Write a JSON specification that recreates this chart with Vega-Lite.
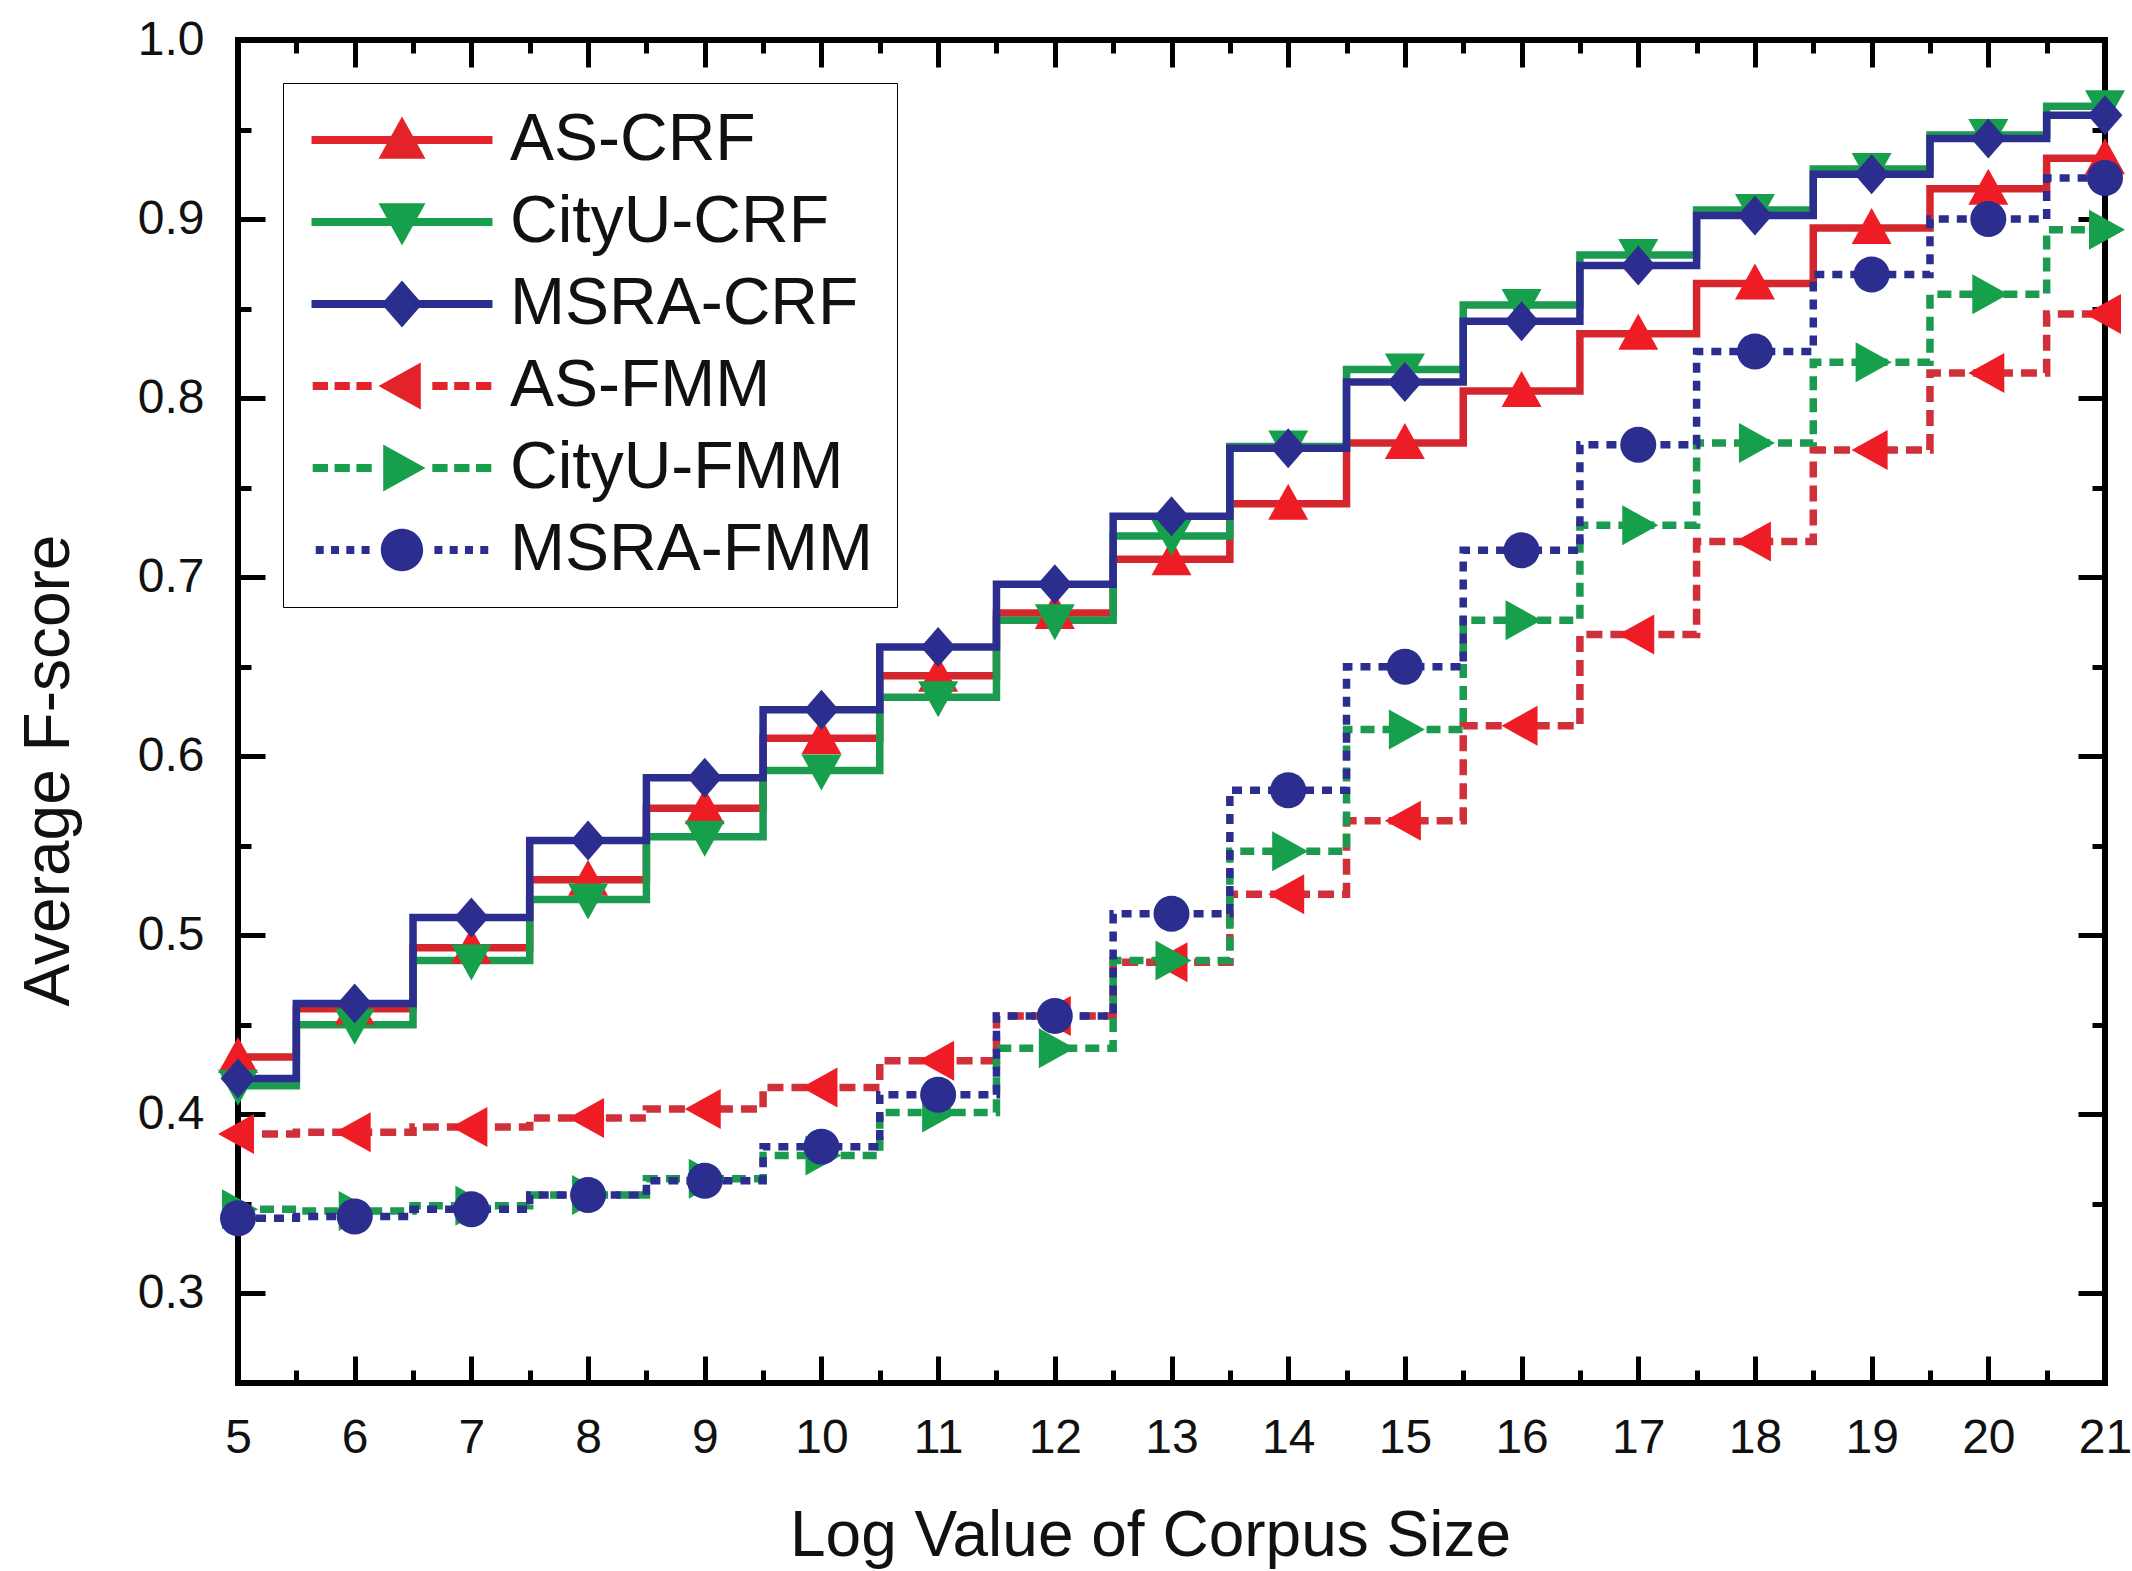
{
  "$schema": "https://vega.github.io/schema/vega-lite/v6.json",
  "width": 1867,
  "height": 1343,
  "autosize": {"type": "none"},
  "padding": {"left": 238, "top": 40, "right": 27, "bottom": 188},
  "background": "white",
  "config": {
    "font": "Liberation Sans",
    "view": {"stroke": "black", "strokeWidth": 6},
    "axis": {"grid": false}
  },
  "data": {
    "values": [
      {"logSize": 5, "series": "AS-CRF", "fscore": 0.432},
      {"logSize": 6, "series": "AS-CRF", "fscore": 0.459},
      {"logSize": 7, "series": "AS-CRF", "fscore": 0.493},
      {"logSize": 8, "series": "AS-CRF", "fscore": 0.531},
      {"logSize": 9, "series": "AS-CRF", "fscore": 0.571},
      {"logSize": 10, "series": "AS-CRF", "fscore": 0.610},
      {"logSize": 11, "series": "AS-CRF", "fscore": 0.645},
      {"logSize": 12, "series": "AS-CRF", "fscore": 0.680},
      {"logSize": 13, "series": "AS-CRF", "fscore": 0.710},
      {"logSize": 14, "series": "AS-CRF", "fscore": 0.741},
      {"logSize": 15, "series": "AS-CRF", "fscore": 0.775},
      {"logSize": 16, "series": "AS-CRF", "fscore": 0.804},
      {"logSize": 17, "series": "AS-CRF", "fscore": 0.836},
      {"logSize": 18, "series": "AS-CRF", "fscore": 0.864},
      {"logSize": 19, "series": "AS-CRF", "fscore": 0.895},
      {"logSize": 20, "series": "AS-CRF", "fscore": 0.917},
      {"logSize": 21, "series": "AS-CRF", "fscore": 0.934},
      {"logSize": 5, "series": "CityU-CRF", "fscore": 0.416},
      {"logSize": 6, "series": "CityU-CRF", "fscore": 0.450},
      {"logSize": 7, "series": "CityU-CRF", "fscore": 0.486},
      {"logSize": 8, "series": "CityU-CRF", "fscore": 0.520},
      {"logSize": 9, "series": "CityU-CRF", "fscore": 0.555},
      {"logSize": 10, "series": "CityU-CRF", "fscore": 0.592},
      {"logSize": 11, "series": "CityU-CRF", "fscore": 0.633},
      {"logSize": 12, "series": "CityU-CRF", "fscore": 0.676},
      {"logSize": 13, "series": "CityU-CRF", "fscore": 0.723},
      {"logSize": 14, "series": "CityU-CRF", "fscore": 0.773},
      {"logSize": 15, "series": "CityU-CRF", "fscore": 0.816},
      {"logSize": 16, "series": "CityU-CRF", "fscore": 0.852},
      {"logSize": 17, "series": "CityU-CRF", "fscore": 0.880},
      {"logSize": 18, "series": "CityU-CRF", "fscore": 0.905},
      {"logSize": 19, "series": "CityU-CRF", "fscore": 0.928},
      {"logSize": 20, "series": "CityU-CRF", "fscore": 0.947},
      {"logSize": 21, "series": "CityU-CRF", "fscore": 0.963},
      {"logSize": 5, "series": "MSRA-CRF", "fscore": 0.420},
      {"logSize": 6, "series": "MSRA-CRF", "fscore": 0.462},
      {"logSize": 7, "series": "MSRA-CRF", "fscore": 0.510},
      {"logSize": 8, "series": "MSRA-CRF", "fscore": 0.553},
      {"logSize": 9, "series": "MSRA-CRF", "fscore": 0.588},
      {"logSize": 10, "series": "MSRA-CRF", "fscore": 0.626},
      {"logSize": 11, "series": "MSRA-CRF", "fscore": 0.661},
      {"logSize": 12, "series": "MSRA-CRF", "fscore": 0.696},
      {"logSize": 13, "series": "MSRA-CRF", "fscore": 0.734},
      {"logSize": 14, "series": "MSRA-CRF", "fscore": 0.772},
      {"logSize": 15, "series": "MSRA-CRF", "fscore": 0.809},
      {"logSize": 16, "series": "MSRA-CRF", "fscore": 0.843},
      {"logSize": 17, "series": "MSRA-CRF", "fscore": 0.874},
      {"logSize": 18, "series": "MSRA-CRF", "fscore": 0.902},
      {"logSize": 19, "series": "MSRA-CRF", "fscore": 0.925},
      {"logSize": 20, "series": "MSRA-CRF", "fscore": 0.945},
      {"logSize": 21, "series": "MSRA-CRF", "fscore": 0.958},
      {"logSize": 5, "series": "AS-FMM", "fscore": 0.389},
      {"logSize": 6, "series": "AS-FMM", "fscore": 0.390},
      {"logSize": 7, "series": "AS-FMM", "fscore": 0.393},
      {"logSize": 8, "series": "AS-FMM", "fscore": 0.398},
      {"logSize": 9, "series": "AS-FMM", "fscore": 0.403},
      {"logSize": 10, "series": "AS-FMM", "fscore": 0.415},
      {"logSize": 11, "series": "AS-FMM", "fscore": 0.430},
      {"logSize": 12, "series": "AS-FMM", "fscore": 0.455},
      {"logSize": 13, "series": "AS-FMM", "fscore": 0.485},
      {"logSize": 14, "series": "AS-FMM", "fscore": 0.523},
      {"logSize": 15, "series": "AS-FMM", "fscore": 0.564},
      {"logSize": 16, "series": "AS-FMM", "fscore": 0.617},
      {"logSize": 17, "series": "AS-FMM", "fscore": 0.668},
      {"logSize": 18, "series": "AS-FMM", "fscore": 0.720},
      {"logSize": 19, "series": "AS-FMM", "fscore": 0.771},
      {"logSize": 20, "series": "AS-FMM", "fscore": 0.814},
      {"logSize": 21, "series": "AS-FMM", "fscore": 0.847},
      {"logSize": 5, "series": "CityU-FMM", "fscore": 0.347},
      {"logSize": 6, "series": "CityU-FMM", "fscore": 0.346},
      {"logSize": 7, "series": "CityU-FMM", "fscore": 0.349},
      {"logSize": 8, "series": "CityU-FMM", "fscore": 0.355},
      {"logSize": 9, "series": "CityU-FMM", "fscore": 0.364},
      {"logSize": 10, "series": "CityU-FMM", "fscore": 0.377},
      {"logSize": 11, "series": "CityU-FMM", "fscore": 0.401},
      {"logSize": 12, "series": "CityU-FMM", "fscore": 0.437},
      {"logSize": 13, "series": "CityU-FMM", "fscore": 0.486},
      {"logSize": 14, "series": "CityU-FMM", "fscore": 0.547},
      {"logSize": 15, "series": "CityU-FMM", "fscore": 0.615},
      {"logSize": 16, "series": "CityU-FMM", "fscore": 0.676},
      {"logSize": 17, "series": "CityU-FMM", "fscore": 0.729},
      {"logSize": 18, "series": "CityU-FMM", "fscore": 0.775},
      {"logSize": 19, "series": "CityU-FMM", "fscore": 0.820},
      {"logSize": 20, "series": "CityU-FMM", "fscore": 0.858},
      {"logSize": 21, "series": "CityU-FMM", "fscore": 0.894},
      {"logSize": 5, "series": "MSRA-FMM", "fscore": 0.342},
      {"logSize": 6, "series": "MSRA-FMM", "fscore": 0.343},
      {"logSize": 7, "series": "MSRA-FMM", "fscore": 0.347},
      {"logSize": 8, "series": "MSRA-FMM", "fscore": 0.355},
      {"logSize": 9, "series": "MSRA-FMM", "fscore": 0.363},
      {"logSize": 10, "series": "MSRA-FMM", "fscore": 0.382},
      {"logSize": 11, "series": "MSRA-FMM", "fscore": 0.411},
      {"logSize": 12, "series": "MSRA-FMM", "fscore": 0.455},
      {"logSize": 13, "series": "MSRA-FMM", "fscore": 0.512},
      {"logSize": 14, "series": "MSRA-FMM", "fscore": 0.581},
      {"logSize": 15, "series": "MSRA-FMM", "fscore": 0.650},
      {"logSize": 16, "series": "MSRA-FMM", "fscore": 0.715},
      {"logSize": 17, "series": "MSRA-FMM", "fscore": 0.774},
      {"logSize": 18, "series": "MSRA-FMM", "fscore": 0.826},
      {"logSize": 19, "series": "MSRA-FMM", "fscore": 0.869},
      {"logSize": 20, "series": "MSRA-FMM", "fscore": 0.900},
      {"logSize": 21, "series": "MSRA-FMM", "fscore": 0.923}
    ]
  },
  "layer": [
    {
      "mark": {"type": "point", "filled": true, "opacity": 0},
      "encoding": {
        "x": {
          "field": "logSize", "type": "quantitative",
          "scale": {"domain": [5, 21], "nice": false, "zero": false},
          "axis": {
            "orient": "bottom", "values": [5,6,7,8,9,10,11,12,13,14,15,16,17,18,19,20,21], "format": "d",
            "labelFontSize": 48, "labelFont": "Liberation Sans", "labelColor": "#111111",
            "labelPadding": 69, "labelBaseline": "alphabetic", "labelFlush": false, "labelOverlap": false, "labelBound": false,
            "ticks": false, "tickSize": 0, "domain": false, "grid": false,
            "title": "Log Value of Corpus Size", "titleFontSize": 64, "titleFont": "Liberation Sans", "titleFontWeight": "normal",
            "titleColor": "#111111", "titleX": 912, "titleY": 172, "titleBaseline": "alphabetic", "titleAlign": "center"
          }
        },
        "y": {
          "field": "fscore", "type": "quantitative",
          "scale": {"domain": [0.25, 1.0], "nice": false, "zero": false},
          "axis": {
            "orient": "left", "values": [0.3,0.4,0.5,0.6,0.7,0.8,0.9,1.0], "format": ".1f",
            "labelFontSize": 48, "labelFont": "Liberation Sans", "labelColor": "#111111",
            "labelPadding": 34, "labelFlush": false, "labelOverlap": false, "labelBound": false,
            "ticks": false, "tickSize": 0, "domain": false, "grid": false,
            "title": "Average F-score", "titleFontSize": 64, "titleFont": "Liberation Sans", "titleFontWeight": "normal",
            "titleColor": "#111111", "titleX": -170, "titleY": 730, "titleBaseline": "alphabetic", "titleAlign": "center", "titleAngle": -90
          }
        },
        "fill": {
          "field": "series", "type": "nominal",
          "scale": {
            "domain": ["AS-CRF", "CityU-CRF", "MSRA-CRF", "AS-FMM", "CityU-FMM", "MSRA-FMM"],
            "range": ["#E3222A", "#17A04C", "#2B2E8E", "#E3222A", "#17A04C", "#2B2E8E"]
          },
          "legend": {
            "title": null, "orient": "none", "legendX": 45, "legendY": 43,
            "fillColor": "white", "strokeColor": "black", "padding": 24, "rowPadding": 16,
            "labelFontSize": 66, "labelFont": "Liberation Sans", "labelColor": "#111111", "labelLimit": 0,
            "labelOffset": 75, "symbolOffset": 62,
            "symbolSize": 2209, "symbolOpacity": 1, "symbolStrokeWidth": 0
          }
        },
        "shape": {
          "field": "series", "type": "nominal",
          "scale": {
            "domain": ["AS-CRF", "CityU-CRF", "MSRA-CRF", "AS-FMM", "CityU-FMM", "MSRA-FMM"],
            "range": [
              "M-3.85,-0.17H3.85V0.17H-3.85Z M0,-1L1,0.8L-1,0.8Z",
              "M-3.85,-0.17H3.85V0.17H-3.85Z M0,1L-1,-0.8L1,-0.8Z",
              "M-3.85,-0.17H3.85V0.17H-3.85Z M0,-1L0.87,0L0,1L-0.87,0Z",
              "M-3.8,-0.17H-3.15V0.17H-3.8Z M-2.87,-0.17H-2.22V0.17H-2.87Z M-1.94,-0.17H-1.29V0.17H-1.94Z M1.29,-0.17H1.94V0.17H1.29Z M2.22,-0.17H2.87V0.17H2.22Z M3.15,-0.17H3.8V0.17H3.15Z M-1,0L0.8,-1L0.8,1Z",
              "M-3.8,-0.17H-3.15V0.17H-3.8Z M-2.87,-0.17H-2.22V0.17H-2.87Z M-1.94,-0.17H-1.29V0.17H-1.94Z M1.29,-0.17H1.94V0.17H1.29Z M2.22,-0.17H2.87V0.17H2.22Z M3.15,-0.17H3.8V0.17H3.15Z M1,0L-0.8,1L-0.8,-1Z",
              "M-3.67,-0.17H-3.33V0.17H-3.67Z M-3.02,-0.17H-2.68V0.17H-3.02Z M-2.37,-0.17H-2.03V0.17H-2.37Z M-1.72,-0.17H-1.38V0.17H-1.72Z M1.38,-0.17H1.72V0.17H1.38Z M2.03,-0.17H2.37V0.17H2.03Z M2.68,-0.17H3.02V0.17H2.68Z M3.33,-0.17H3.67V0.17H3.33Z M-0.9,0A0.9,0.9,0,1,1,0.9,0A0.9,0.9,0,1,1,-0.9,0Z"
            ]
          },
          "legend": {
            "title": null, "orient": "none", "legendX": 45, "legendY": 43,
            "fillColor": "white", "strokeColor": "black", "padding": 24, "rowPadding": 16,
            "labelFontSize": 66, "labelFont": "Liberation Sans", "labelColor": "#111111", "labelLimit": 0,
            "labelOffset": 75, "symbolOffset": 62,
            "symbolSize": 2209, "symbolOpacity": 1, "symbolStrokeWidth": 0
          }
        }
      }
    },
    {
      "mark": {"type": "line", "interpolate": "step", "strokeWidth": 7.5, "strokeCap": "butt"},
      "encoding": {
        "x": {
          "field": "logSize", "type": "quantitative",
          "scale": {"domain": [5, 21], "nice": false, "zero": false},
          "axis": {"orient": "bottom", "values": [6,7,8,9,10,11,12,13,14,15,16,17,18,19,20], "labels": false, "domain": false, "grid": false, "title": null,
                   "ticks": true, "tickSize": 27, "tickWidth": 5, "tickColor": "black", "offset": -27}
        },
        "y": {
          "field": "fscore", "type": "quantitative",
          "scale": {"domain": [0.25, 1.0], "nice": false, "zero": false},
          "axis": {"orient": "left", "values": [0.3,0.4,0.5,0.6,0.7,0.8,0.9], "labels": false, "domain": false, "grid": false, "title": null,
                   "ticks": true, "tickSize": 27, "tickWidth": 5, "tickColor": "black", "offset": -27}
        },
        "stroke": {
          "field": "series", "type": "nominal", "legend": null,
          "scale": {
            "domain": ["AS-CRF", "AS-FMM", "CityU-CRF", "CityU-FMM", "MSRA-CRF", "MSRA-FMM"],
            "range": ["#D6262D", "#D0303A", "#1C9A50", "#1C9A50", "#2B2E8E", "#2B2E8E"]
          }
        },
        "strokeDash": {
          "field": "series", "type": "nominal", "legend": null,
          "scale": {
            "domain": ["AS-CRF", "AS-FMM", "CityU-CRF", "CityU-FMM", "MSRA-CRF", "MSRA-FMM"],
            "range": [[1, 0], [16, 8], [1, 0], [14, 8], [1, 0], [10, 8]]
          }
        }
      }
    },
    {
      "mark": {"type": "point", "filled": true, "opacity": 1, "size": 1600, "strokeWidth": 0},
      "encoding": {
        "x": {
          "field": "logSize", "type": "quantitative",
          "scale": {"domain": [5, 21], "nice": false, "zero": false},
          "axis": {"orient": "bottom", "values": [5.5,6.5,7.5,8.5,9.5,10.5,11.5,12.5,13.5,14.5,15.5,16.5,17.5,18.5,19.5,20.5], "labels": false, "domain": false, "grid": false, "title": null,
                   "ticks": true, "tickSize": 13, "tickWidth": 5, "tickColor": "black", "offset": -13}
        },
        "y": {
          "field": "fscore", "type": "quantitative",
          "scale": {"domain": [0.25, 1.0], "nice": false, "zero": false},
          "axis": {"orient": "left", "values": [0.35,0.45,0.55,0.65,0.75,0.85,0.95], "labels": false, "domain": false, "grid": false, "title": null,
                   "ticks": true, "tickSize": 13, "tickWidth": 5, "tickColor": "black", "offset": -13}
        },
        "color": {
          "field": "series", "type": "nominal", "legend": null,
          "scale": {
            "domain": ["AS-CRF", "AS-FMM", "CityU-CRF", "CityU-FMM", "MSRA-CRF", "MSRA-FMM"],
            "range": ["#EE1D25", "#EE1D25", "#17A04C", "#17A04C", "#2B2E8E", "#2B2E8E"]
          }
        },
        "shape": {
          "field": "series", "type": "nominal", "legend": null,
          "scale": {
            "domain": ["AS-CRF", "AS-FMM", "CityU-CRF", "CityU-FMM", "MSRA-CRF", "MSRA-FMM"],
            "range": ["M0,-1L1,0.8L-1,0.8Z", "M-1,0L0.8,-1L0.8,1Z", "M0,1L-1,-0.8L1,-0.8Z", "M1,0L-0.8,1L-0.8,-1Z", "M0,-1L0.87,0L0,1L-0.87,0Z", "M-0.9,0A0.9,0.9,0,1,1,0.9,0A0.9,0.9,0,1,1,-0.9,0Z"]
          }
        }
      }
    },
    {
      "mark": {"type": "point", "opacity": 0},
      "encoding": {
        "x": {
          "field": "logSize", "type": "quantitative",
          "scale": {"domain": [5, 21], "nice": false, "zero": false},
          "axis": {"orient": "top", "values": [6,7,8,9,10,11,12,13,14,15,16,17,18,19,20], "labels": false, "domain": false, "grid": false, "title": null,
                   "ticks": true, "tickSize": 27, "tickWidth": 5, "tickColor": "black", "offset": -27}
        },
        "y": {
          "field": "fscore", "type": "quantitative",
          "scale": {"domain": [0.25, 1.0], "nice": false, "zero": false},
          "axis": {"orient": "right", "values": [0.3,0.4,0.5,0.6,0.7,0.8,0.9], "labels": false, "domain": false, "grid": false, "title": null,
                   "ticks": true, "tickSize": 27, "tickWidth": 5, "tickColor": "black", "offset": -27}
        }
      }
    },
    {
      "mark": {"type": "point", "opacity": 0},
      "encoding": {
        "x": {
          "field": "logSize", "type": "quantitative",
          "scale": {"domain": [5, 21], "nice": false, "zero": false},
          "axis": {"orient": "top", "values": [5.5,6.5,7.5,8.5,9.5,10.5,11.5,12.5,13.5,14.5,15.5,16.5,17.5,18.5,19.5,20.5], "labels": false, "domain": false, "grid": false, "title": null,
                   "ticks": true, "tickSize": 13, "tickWidth": 5, "tickColor": "black", "offset": -13}
        },
        "y": {
          "field": "fscore", "type": "quantitative",
          "scale": {"domain": [0.25, 1.0], "nice": false, "zero": false},
          "axis": {"orient": "right", "values": [0.35,0.45,0.55,0.65,0.75,0.85,0.95], "labels": false, "domain": false, "grid": false, "title": null,
                   "ticks": true, "tickSize": 13, "tickWidth": 5, "tickColor": "black", "offset": -13}
        }
      }
    }
  ],
  "resolve": {"axis": {"x": "independent", "y": "independent"}, "scale": {"shape": "independent", "fill": "independent"}}
}
